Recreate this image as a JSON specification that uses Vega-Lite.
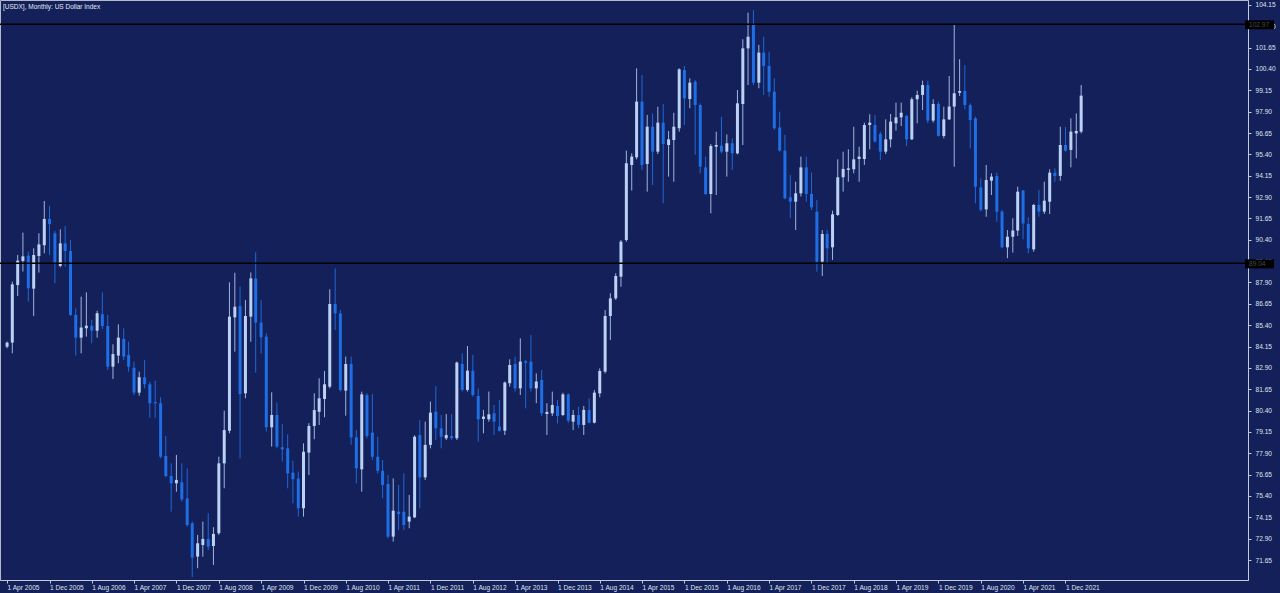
{
"$schema": "https://vega.github.io/schema/vega-lite/v6.json",
"width": 1248, "height": 580,
"autosize": "none",
"padding": {"left": 0, "top": 0, "right": 32, "bottom": 13},
"background": "#13205a",
"config": {
 "view": {"stroke": "#b4bac8", "strokeWidth": 1},
 "font": "Liberation Sans",
 "axis": {"labelOverlap": false, "labelFlush": false, "grid": false, "title": null, "labelFont": "Liberation Sans", "labelFontSize": 6.6, "labelColor": "#dfe3ee", "tickColor": "#c4cad8", "domainColor": "#c4cad8", "tickSize": 3},
 "axisX": {"labelAlign": "left", "labelBaseline": "top", "labelDx": 1, "labelPadding": 1},
 "axisY": {"labelPadding": 4, "labelBaseline": "middle"}
},
"title": {"text": "[USDX], Monthly:  US Dollar Index", "anchor": "start", "frame": "group", "orient": "top", "offset": -10, "dx": 3, "fontSize": 6.5, "fontWeight": "normal", "color": "#e4e8f2", "font": "Liberation Sans"},
"data": {"values": [
{"t":"2005-04-01","o":84.14,"h":84.44,"l":84.05,"c":84.38},
{"t":"2005-05-01","o":84.38,"h":87.95,"l":83.75,"c":87.79},
{"t":"2005-06-01","o":87.75,"h":89.51,"l":87.11,"c":89.18},
{"t":"2005-07-01","o":89.16,"h":90.82,"l":88.54,"c":89.43},
{"t":"2005-08-01","o":89.47,"h":89.71,"l":86.78,"c":87.56},
{"t":"2005-09-01","o":87.54,"h":89.90,"l":85.94,"c":89.51},
{"t":"2005-10-01","o":89.45,"h":90.78,"l":88.48,"c":90.13},
{"t":"2005-11-01","o":90.08,"h":92.67,"l":89.61,"c":91.62},
{"t":"2005-12-01","o":91.62,"h":92.38,"l":89.51,"c":91.33},
{"t":"2006-01-01","o":90.78,"h":90.93,"l":87.85,"c":88.98},
{"t":"2006-02-01","o":88.87,"h":91.01,"l":88.79,"c":90.19},
{"t":"2006-03-01","o":90.19,"h":91.21,"l":88.83,"c":89.74},
{"t":"2006-04-01","o":89.74,"h":90.39,"l":85.94,"c":86.00},
{"t":"2006-05-01","o":86.00,"h":86.39,"l":83.62,"c":84.67},
{"t":"2006-06-01","o":84.67,"h":87.07,"l":83.75,"c":85.26},
{"t":"2006-07-01","o":85.22,"h":87.32,"l":84.73,"c":85.37},
{"t":"2006-08-01","o":85.37,"h":85.71,"l":84.34,"c":85.08},
{"t":"2006-09-01","o":85.08,"h":86.25,"l":84.67,"c":86.10},
{"t":"2006-10-01","o":86.04,"h":87.32,"l":85.16,"c":85.35},
{"t":"2006-11-01","o":85.35,"h":86.00,"l":82.78,"c":82.97},
{"t":"2006-12-01","o":82.97,"h":84.28,"l":82.25,"c":83.71},
{"t":"2007-01-01","o":83.62,"h":85.45,"l":83.17,"c":84.67},
{"t":"2007-02-01","o":84.59,"h":85.22,"l":83.36,"c":83.56},
{"t":"2007-03-01","o":83.66,"h":84.44,"l":82.68,"c":82.97},
{"t":"2007-04-01","o":82.91,"h":83.27,"l":81.31,"c":81.45},
{"t":"2007-05-01","o":81.45,"h":82.68,"l":81.27,"c":82.35},
{"t":"2007-06-01","o":82.35,"h":83.36,"l":81.70,"c":81.94},
{"t":"2007-07-01","o":81.94,"h":82.09,"l":79.99,"c":80.83},
{"t":"2007-08-01","o":80.90,"h":82.15,"l":79.99,"c":80.83},
{"t":"2007-09-01","o":80.83,"h":81.18,"l":77.61,"c":77.70},
{"t":"2007-10-01","o":77.74,"h":78.91,"l":76.49,"c":76.57},
{"t":"2007-11-01","o":76.57,"h":77.31,"l":74.48,"c":76.14},
{"t":"2007-12-01","o":76.14,"h":77.80,"l":75.65,"c":76.34},
{"t":"2008-01-01","o":76.20,"h":77.31,"l":75.07,"c":75.20},
{"t":"2008-02-01","o":75.26,"h":77.02,"l":73.60,"c":73.70},
{"t":"2008-03-01","o":73.80,"h":73.90,"l":70.66,"c":71.79},
{"t":"2008-04-01","o":71.85,"h":73.12,"l":71.17,"c":72.63},
{"t":"2008-05-01","o":72.53,"h":73.90,"l":71.85,"c":72.88},
{"t":"2008-06-01","o":72.88,"h":74.39,"l":72.24,"c":72.43},
{"t":"2008-07-01","o":72.47,"h":73.57,"l":71.36,"c":73.18},
{"t":"2008-08-01","o":73.22,"h":77.70,"l":73.12,"c":77.31},
{"t":"2008-09-01","o":77.31,"h":80.40,"l":75.85,"c":79.26},
{"t":"2008-10-01","o":79.22,"h":87.91,"l":79.07,"c":85.90},
{"t":"2008-11-01","o":85.86,"h":88.47,"l":83.85,"c":86.48},
{"t":"2008-12-01","o":86.52,"h":87.66,"l":77.60,"c":81.37},
{"t":"2009-01-01","o":81.41,"h":86.87,"l":81.12,"c":85.94},
{"t":"2009-02-01","o":85.90,"h":88.49,"l":84.43,"c":88.14},
{"t":"2009-03-01","o":88.14,"h":89.67,"l":82.62,"c":85.55},
{"t":"2009-04-01","o":85.55,"h":86.87,"l":83.75,"c":84.69},
{"t":"2009-05-01","o":84.73,"h":84.92,"l":79.17,"c":79.42},
{"t":"2009-06-01","o":79.42,"h":81.47,"l":78.29,"c":80.14},
{"t":"2009-07-01","o":80.14,"h":80.88,"l":78.19,"c":78.29},
{"t":"2009-08-01","o":78.25,"h":79.60,"l":77.41,"c":78.13},
{"t":"2009-09-01","o":78.19,"h":79.01,"l":75.85,"c":76.72},
{"t":"2009-10-01","o":76.77,"h":77.47,"l":74.97,"c":76.38},
{"t":"2009-11-01","o":76.42,"h":76.83,"l":74.19,"c":74.68},
{"t":"2009-12-01","o":74.68,"h":78.48,"l":74.19,"c":77.99},
{"t":"2010-01-01","o":77.94,"h":79.66,"l":76.63,"c":79.50},
{"t":"2010-02-01","o":79.50,"h":81.41,"l":78.72,"c":80.43},
{"t":"2010-03-01","o":80.33,"h":82.29,"l":79.56,"c":81.12},
{"t":"2010-04-01","o":81.08,"h":82.72,"l":80.01,"c":81.94},
{"t":"2010-05-01","o":81.80,"h":87.50,"l":81.70,"c":86.64},
{"t":"2010-06-01","o":86.64,"h":88.73,"l":85.12,"c":86.09},
{"t":"2010-07-01","o":86.09,"h":86.29,"l":81.51,"c":81.60},
{"t":"2010-08-01","o":81.57,"h":83.56,"l":80.10,"c":83.13},
{"t":"2010-09-01","o":83.13,"h":83.56,"l":78.39,"c":78.83},
{"t":"2010-10-01","o":78.83,"h":79.26,"l":76.14,"c":77.02},
{"t":"2010-11-01","o":76.96,"h":81.51,"l":75.65,"c":81.35},
{"t":"2010-12-01","o":81.31,"h":81.41,"l":78.77,"c":78.91},
{"t":"2011-01-01","o":79.11,"h":81.37,"l":77.51,"c":77.70},
{"t":"2011-02-01","o":77.70,"h":78.87,"l":76.72,"c":76.87},
{"t":"2011-03-01","o":76.87,"h":77.51,"l":75.26,"c":76.04},
{"t":"2011-04-01","o":76.10,"h":76.63,"l":72.92,"c":73.02},
{"t":"2011-05-01","o":73.02,"h":76.43,"l":72.73,"c":74.54},
{"t":"2011-06-01","o":74.48,"h":76.04,"l":73.41,"c":74.34},
{"t":"2011-07-01","o":74.48,"h":76.72,"l":73.41,"c":73.70},
{"t":"2011-08-01","o":73.90,"h":75.46,"l":73.51,"c":74.19},
{"t":"2011-09-01","o":74.15,"h":78.95,"l":74.10,"c":78.87},
{"t":"2011-10-01","o":78.97,"h":79.85,"l":74.68,"c":76.49},
{"t":"2011-11-01","o":76.49,"h":79.75,"l":76.34,"c":78.39},
{"t":"2011-12-01","o":78.39,"h":80.93,"l":78.19,"c":80.28},
{"t":"2012-01-01","o":80.34,"h":81.84,"l":78.68,"c":79.36},
{"t":"2012-02-01","o":79.36,"h":80.14,"l":78.19,"c":78.87},
{"t":"2012-03-01","o":78.78,"h":80.20,"l":78.68,"c":78.97},
{"t":"2012-04-01","o":78.91,"h":80.20,"l":78.68,"c":78.78},
{"t":"2012-05-01","o":78.78,"h":83.27,"l":78.68,"c":83.21},
{"t":"2012-06-01","o":83.13,"h":83.75,"l":81.51,"c":81.61},
{"t":"2012-07-01","o":81.61,"h":84.18,"l":81.51,"c":82.74},
{"t":"2012-08-01","o":82.74,"h":83.66,"l":81.21,"c":81.31},
{"t":"2012-09-01","o":81.25,"h":81.70,"l":78.58,"c":79.89},
{"t":"2012-10-01","o":79.91,"h":80.44,"l":79.07,"c":80.05},
{"t":"2012-11-01","o":79.89,"h":81.51,"l":79.75,"c":80.18},
{"t":"2012-12-01","o":80.24,"h":80.73,"l":78.97,"c":79.75},
{"t":"2013-01-01","o":79.46,"h":81.02,"l":79.17,"c":79.22},
{"t":"2013-02-01","o":79.22,"h":82.10,"l":78.97,"c":82.04},
{"t":"2013-03-01","o":82.00,"h":83.40,"l":81.80,"c":83.07},
{"t":"2013-04-01","o":83.13,"h":83.56,"l":81.51,"c":81.70},
{"t":"2013-05-01","o":81.70,"h":84.63,"l":81.31,"c":83.27},
{"t":"2013-06-01","o":83.29,"h":83.36,"l":80.53,"c":83.20},
{"t":"2013-07-01","o":83.27,"h":84.83,"l":81.51,"c":81.70},
{"t":"2013-08-01","o":81.70,"h":82.58,"l":80.83,"c":82.10},
{"t":"2013-09-01","o":82.19,"h":82.78,"l":80.08,"c":80.24},
{"t":"2013-10-01","o":80.20,"h":80.83,"l":78.97,"c":80.32},
{"t":"2013-11-01","o":80.24,"h":81.51,"l":80.08,"c":80.73},
{"t":"2013-12-01","o":80.67,"h":81.02,"l":79.65,"c":80.08},
{"t":"2014-01-01","o":80.14,"h":81.45,"l":80.08,"c":81.35},
{"t":"2014-02-01","o":81.35,"h":81.41,"l":79.69,"c":79.81},
{"t":"2014-03-01","o":79.75,"h":80.44,"l":79.26,"c":80.14},
{"t":"2014-04-01","o":80.14,"h":80.63,"l":79.36,"c":79.56},
{"t":"2014-05-01","o":79.56,"h":80.67,"l":78.97,"c":80.44},
{"t":"2014-06-01","o":80.44,"h":81.12,"l":79.65,"c":79.69},
{"t":"2014-07-01","o":79.69,"h":81.61,"l":79.65,"c":81.45},
{"t":"2014-08-01","o":81.41,"h":82.87,"l":81.18,"c":82.72},
{"t":"2014-09-01","o":82.68,"h":86.29,"l":82.58,"c":85.94},
{"t":"2014-10-01","o":85.94,"h":87.27,"l":84.53,"c":86.97},
{"t":"2014-11-01","o":86.97,"h":88.44,"l":86.88,"c":88.28},
{"t":"2014-12-01","o":88.24,"h":90.39,"l":87.65,"c":90.29},
{"t":"2015-01-01","o":90.39,"h":95.62,"l":90.29,"c":94.88},
{"t":"2015-02-01","o":94.78,"h":95.46,"l":93.28,"c":95.27},
{"t":"2015-03-01","o":95.23,"h":100.44,"l":95.11,"c":98.49},
{"t":"2015-04-01","o":98.49,"h":100.05,"l":94.49,"c":94.78},
{"t":"2015-05-01","o":94.84,"h":97.71,"l":93.22,"c":97.02},
{"t":"2015-06-01","o":97.02,"h":97.80,"l":93.61,"c":95.56},
{"t":"2015-07-01","o":95.56,"h":98.19,"l":95.42,"c":97.26},
{"t":"2015-08-01","o":97.26,"h":98.35,"l":92.54,"c":96.01},
{"t":"2015-09-01","o":95.95,"h":96.77,"l":94.10,"c":96.28},
{"t":"2015-10-01","o":96.24,"h":97.84,"l":93.80,"c":97.02},
{"t":"2015-11-01","o":96.93,"h":100.44,"l":96.73,"c":100.38},
{"t":"2015-12-01","o":100.34,"h":100.58,"l":97.12,"c":98.68},
{"t":"2016-01-01","o":98.64,"h":99.85,"l":98.10,"c":99.60},
{"t":"2016-02-01","o":99.66,"h":99.76,"l":95.37,"c":98.29},
{"t":"2016-03-01","o":98.29,"h":98.39,"l":94.29,"c":94.68},
{"t":"2016-04-01","o":94.64,"h":95.27,"l":93.02,"c":93.08},
{"t":"2016-05-01","o":93.08,"h":96.01,"l":91.95,"c":95.89},
{"t":"2016-06-01","o":95.85,"h":96.73,"l":93.02,"c":95.95},
{"t":"2016-07-01","o":95.91,"h":97.61,"l":95.46,"c":95.56},
{"t":"2016-08-01","o":95.56,"h":96.57,"l":94.10,"c":96.05},
{"t":"2016-09-01","o":96.05,"h":96.34,"l":94.49,"c":95.46},
{"t":"2016-10-01","o":95.46,"h":99.17,"l":95.40,"c":98.39},
{"t":"2016-11-01","o":98.35,"h":102.14,"l":95.95,"c":101.61},
{"t":"2016-12-01","o":101.61,"h":103.70,"l":99.46,"c":102.29},
{"t":"2017-01-01","o":103.03,"h":103.85,"l":99.46,"c":99.60},
{"t":"2017-02-01","o":99.60,"h":101.81,"l":99.27,"c":101.36},
{"t":"2017-03-01","o":101.36,"h":102.29,"l":98.88,"c":100.58},
{"t":"2017-04-01","o":100.58,"h":101.41,"l":98.78,"c":99.07},
{"t":"2017-05-01","o":99.07,"h":99.85,"l":96.83,"c":96.93},
{"t":"2017-06-01","o":96.98,"h":97.90,"l":95.56,"c":95.62},
{"t":"2017-07-01","o":95.62,"h":96.54,"l":92.77,"c":92.83},
{"t":"2017-08-01","o":92.89,"h":94.19,"l":91.66,"c":92.63},
{"t":"2017-09-01","o":92.63,"h":93.80,"l":90.97,"c":93.12},
{"t":"2017-10-01","o":93.12,"h":95.27,"l":92.93,"c":94.64},
{"t":"2017-11-01","o":94.64,"h":95.27,"l":92.63,"c":93.08},
{"t":"2017-12-01","o":93.08,"h":94.33,"l":92.15,"c":92.30},
{"t":"2018-01-01","o":92.05,"h":92.73,"l":88.53,"c":89.12},
{"t":"2018-02-01","o":89.12,"h":90.97,"l":88.28,"c":90.74},
{"t":"2018-03-01","o":90.74,"h":90.97,"l":89.02,"c":89.90},
{"t":"2018-04-01","o":89.96,"h":92.11,"l":89.22,"c":91.89},
{"t":"2018-05-01","o":91.85,"h":95.11,"l":91.79,"c":94.06},
{"t":"2018-06-01","o":94.06,"h":95.56,"l":93.22,"c":94.55},
{"t":"2018-07-01","o":94.49,"h":95.70,"l":93.80,"c":94.58},
{"t":"2018-08-01","o":94.53,"h":97.02,"l":94.29,"c":95.11},
{"t":"2018-09-01","o":95.13,"h":95.85,"l":93.80,"c":95.27},
{"t":"2018-10-01","o":95.13,"h":97.26,"l":94.78,"c":97.12},
{"t":"2018-11-01","o":97.12,"h":97.75,"l":95.70,"c":97.26},
{"t":"2018-12-01","o":97.12,"h":97.71,"l":96.09,"c":96.15},
{"t":"2019-01-01","o":96.60,"h":96.73,"l":95.07,"c":95.56},
{"t":"2019-02-01","o":95.56,"h":97.45,"l":95.42,"c":96.28},
{"t":"2019-03-01","o":96.28,"h":97.77,"l":95.81,"c":97.32},
{"t":"2019-04-01","o":97.22,"h":98.43,"l":96.79,"c":97.57},
{"t":"2019-05-01","o":97.57,"h":98.43,"l":97.06,"c":97.84},
{"t":"2019-06-01","o":97.65,"h":97.71,"l":95.89,"c":96.28},
{"t":"2019-07-01","o":96.28,"h":98.74,"l":96.24,"c":98.63},
{"t":"2019-08-01","o":98.63,"h":99.13,"l":97.22,"c":98.88},
{"t":"2019-09-01","o":98.88,"h":99.72,"l":98.00,"c":99.46},
{"t":"2019-10-01","o":99.46,"h":99.72,"l":97.22,"c":97.38},
{"t":"2019-11-01","o":97.38,"h":98.62,"l":97.26,"c":98.35},
{"t":"2019-12-01","o":98.35,"h":98.49,"l":96.44,"c":96.48},
{"t":"2020-01-01","o":96.48,"h":98.19,"l":96.34,"c":97.45},
{"t":"2020-02-01","o":97.45,"h":99.99,"l":97.41,"c":98.20},
{"t":"2020-03-01","o":98.20,"h":102.98,"l":94.68,"c":98.98},
{"t":"2020-04-01","o":99.01,"h":100.97,"l":98.82,"c":99.11},
{"t":"2020-05-01","o":99.11,"h":100.63,"l":98.04,"c":98.29},
{"t":"2020-06-01","o":98.29,"h":98.39,"l":95.75,"c":97.41},
{"t":"2020-07-01","o":97.51,"h":97.61,"l":92.54,"c":93.51},
{"t":"2020-08-01","o":93.47,"h":94.00,"l":92.05,"c":92.15},
{"t":"2020-09-01","o":92.18,"h":94.78,"l":91.75,"c":93.90},
{"t":"2020-10-01","o":93.86,"h":94.29,"l":93.02,"c":94.10},
{"t":"2020-11-01","o":94.14,"h":94.33,"l":91.46,"c":92.05},
{"t":"2020-12-01","o":92.05,"h":92.15,"l":89.90,"c":89.96},
{"t":"2021-01-01","o":89.96,"h":90.97,"l":89.32,"c":90.58},
{"t":"2021-02-01","o":90.58,"h":91.66,"l":89.65,"c":90.94},
{"t":"2021-03-01","o":90.94,"h":93.51,"l":90.62,"c":93.22},
{"t":"2021-04-01","o":93.28,"h":93.32,"l":90.43,"c":91.36},
{"t":"2021-05-01","o":91.32,"h":91.72,"l":89.61,"c":89.90},
{"t":"2021-06-01","o":89.84,"h":92.50,"l":89.70,"c":92.44},
{"t":"2021-07-01","o":92.44,"h":93.32,"l":91.75,"c":92.05},
{"t":"2021-08-01","o":92.05,"h":93.80,"l":91.91,"c":92.69},
{"t":"2021-09-01","o":92.63,"h":94.53,"l":91.91,"c":94.33},
{"t":"2021-10-01","o":94.33,"h":94.58,"l":93.80,"c":94.14},
{"t":"2021-11-01","o":94.14,"h":97.02,"l":93.86,"c":95.95},
{"t":"2021-12-01","o":95.95,"h":97.00,"l":95.56,"c":95.62},
{"t":"2022-01-01","o":95.66,"h":97.51,"l":94.64,"c":96.73},
{"t":"2022-02-01","o":96.63,"h":97.80,"l":95.17,"c":96.77},
{"t":"2022-03-01","o":96.73,"h":99.46,"l":96.63,"c":98.84}
]},
"layer": [
{"mark": {"type": "rule", "strokeWidth": 1},
 "encoding": {
  "x": {"field": "t", "type": "temporal",
   "scale": {"type": "utc", "domain": [{"year": 2005, "month": 3, "date": 20, "utc": true}, {"year": 2024, "month": 9, "date": 17, "utc": true}]},
   "axis": {"orient": "bottom", "format": "%-d %b %Y", "labelOverlap": false, "tickCount": 40,
    "values": [
     {"year":2005,"month":4,"date":1,"utc":true},{"year":2005,"month":12,"date":1,"utc":true},
     {"year":2006,"month":8,"date":1,"utc":true},{"year":2007,"month":4,"date":1,"utc":true},
     {"year":2007,"month":12,"date":1,"utc":true},{"year":2008,"month":8,"date":1,"utc":true},
     {"year":2009,"month":4,"date":1,"utc":true},{"year":2009,"month":12,"date":1,"utc":true},
     {"year":2010,"month":8,"date":1,"utc":true},{"year":2011,"month":4,"date":1,"utc":true},
     {"year":2011,"month":12,"date":1,"utc":true},{"year":2012,"month":8,"date":1,"utc":true},
     {"year":2013,"month":4,"date":1,"utc":true},{"year":2013,"month":12,"date":1,"utc":true},
     {"year":2014,"month":8,"date":1,"utc":true},{"year":2015,"month":4,"date":1,"utc":true},
     {"year":2015,"month":12,"date":1,"utc":true},{"year":2016,"month":8,"date":1,"utc":true},
     {"year":2017,"month":4,"date":1,"utc":true},{"year":2017,"month":12,"date":1,"utc":true},
     {"year":2018,"month":8,"date":1,"utc":true},{"year":2019,"month":4,"date":1,"utc":true},
     {"year":2019,"month":12,"date":1,"utc":true},{"year":2020,"month":8,"date":1,"utc":true},
     {"year":2021,"month":4,"date":1,"utc":true},{"year":2021,"month":12,"date":1,"utc":true}]}},
  "y": {"field": "h", "type": "quantitative",
   "scale": {"domain": [70.48, 104.44], "nice": false, "zero": false},
   "axis": {"orient": "right", "format": ".2f", "labelOverlap": false, "tickCount": 40,
    "values": [71.65,72.9,74.15,75.4,76.65,77.9,79.15,80.4,81.65,82.9,84.15,85.4,86.65,87.9,89.15,90.4,91.65,92.9,94.15,95.4,96.65,97.9,99.15,100.4,101.65,102.9,104.15]}},
  "y2": {"field": "l"},
  "color": {"condition": {"test": "datum.c >= datum.o", "value": "#9fb6dc"}, "value": "#1f68d8"}
 }},
{"mark": {"type": "bar", "width": 3},
 "encoding": {
  "x": {"field": "t", "type": "temporal"},
  "y": {"field": "o", "type": "quantitative"},
  "y2": {"field": "c"},
  "color": {"condition": {"test": "datum.c >= datum.o", "value": "#bcd2f4"}, "value": "#1e6fe6"}
 }},
{"data": {"values": [{"lvl": 103.02, "lab": "102.97"}, {"lvl": 89.02, "lab": "89.04"}]},
 "layer": [
  {"mark": {"type": "rule", "color": "#000000", "strokeWidth": 1.5},
   "encoding": {"y": {"field": "lvl", "type": "quantitative"}}},
  {"mark": {"type": "rect", "color": "#000000", "xOffset": 2, "x2Offset": 31, "yOffset": -4, "y2Offset": 5},
   "encoding": {
    "x": {"datum": {"year": 2024, "month": 9, "date": 17, "utc": true}, "type": "temporal"},
    "x2": {"datum": {"year": 2024, "month": 9, "date": 17, "utc": true}},
    "y": {"field": "lvl", "type": "quantitative"}, "y2": {"field": "lvl"}}},
  {"mark": {"type": "text", "align": "left", "baseline": "middle", "dx": 6, "dy": 1, "fontSize": 6.6, "font": "Liberation Sans", "color": "#4a4a4a"},
   "encoding": {
    "x": {"datum": {"year": 2024, "month": 9, "date": 17, "utc": true}, "type": "temporal"},
    "y": {"field": "lvl", "type": "quantitative"},
    "text": {"field": "lab"}}}
 ]}
]
}
